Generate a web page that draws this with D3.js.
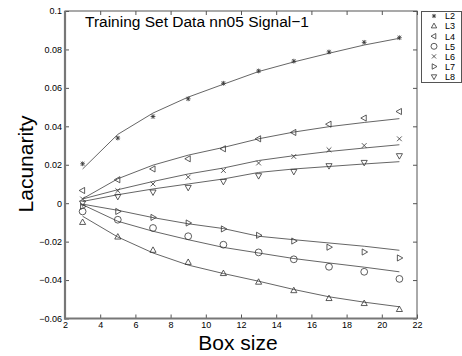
<!DOCTYPE html>
<html><head><meta charset="utf-8">
<script src="https://cdn.jsdelivr.net/npm/d3@7"></script>
<style>body{margin:0;background:#fff}svg{display:block}text{font-family:"Liberation Sans",Arial,sans-serif}</style>
</head><body><svg id="c" width="462" height="356"></svg>
<script>
const boxSizes = [3,5,7,9,11,13,15,17,19,21];
const seriesNames = ["L2","L3","L4","L5","L6","L7","L8"];
// measured markers
const L2 = [0.0205,0.0339,0.0451,0.0543,0.0624,0.0688,0.0739,0.0787,0.0837,0.0861];
const L3 = [-0.0100,-0.0176,-0.0245,-0.0308,-0.0366,-0.0411,-0.0455,-0.0496,-0.0522,-0.0553];
const L4 = [0.0066,0.0122,0.0178,0.0231,0.0283,0.0335,0.0368,0.0411,0.0443,0.0477];
const L5 = [-0.0043,-0.0086,-0.0129,-0.0172,-0.0216,-0.0256,-0.0292,-0.0331,-0.0357,-0.0394];
const L6 = [0.0022,0.0065,0.0100,0.0136,0.0170,0.0209,0.0243,0.0278,0.0300,0.0335];
const L7 = [-0.0017,-0.0043,-0.0074,-0.0103,-0.0134,-0.0167,-0.0197,-0.0229,-0.0254,-0.0285];
const L8 = [0.0001,0.0035,0.0058,0.0082,0.0113,0.0143,0.0165,0.0195,0.0212,0.0247];
// fitted curves
const fitL2 = [0.0178,0.0358,0.0469,0.0552,0.0619,0.0685,0.0735,0.0780,0.0823,0.0858];
const fitL3 = [-0.0068,-0.0176,-0.0259,-0.0322,-0.0366,-0.0406,-0.0449,-0.0487,-0.0515,-0.0539];
const fitL4 = [0.0023,0.0127,0.0198,0.0250,0.0290,0.0335,0.0370,0.0398,0.0420,0.0440];
const fitL5 = [-0.0008,-0.0094,-0.0146,-0.0190,-0.0230,-0.0259,-0.0288,-0.0311,-0.0333,-0.0357];
const fitL6 = [0.0022,0.0070,0.0113,0.0152,0.0183,0.0222,0.0247,0.0269,0.0287,0.0304];
const fitL7 = [-0.0005,-0.0037,-0.0075,-0.0107,-0.0132,-0.0172,-0.0190,-0.0207,-0.0224,-0.0245];
const fitL8 = [0.0009,0.0044,0.0074,0.0100,0.0126,0.0160,0.0178,0.0191,0.0204,0.0216];
const xTicks = [2,4,6,8,10,12,14,16,18,20,22];
const yTicks = [-0.06,-0.04,-0.02,0,0.02,0.04,0.06,0.08,0.1];
const yTickLabels = ["\u22120.06","\u22120.04","\u22120.02","0","0.02","0.04","0.06","0.08","0.1"];
const markerTypes = ["star","up","left","circle","cross","right","down"];

const pts = [L2,L3,L4,L5,L6,L7,L8];
const fits = [fitL2,fitL3,fitL4,fitL5,fitL6,fitL7,fitL8];

const svg = d3.select("#c");
const x = d3.scaleLinear().domain([2,22]).range([65,417]);
const y = d3.scaleLinear().domain([-0.06,0.1]).range([318.5,11]);
const axisColor = "#555";

function markerPath(t, s){
  const r = s;
  switch(t){
    case "up": return `M0,${-r}L${r*0.9},${r*0.6}L${-r*0.9},${r*0.6}Z`;
    case "down": return `M0,${r}L${r*0.9},${-r*0.6}L${-r*0.9},${-r*0.6}Z`;
    case "left": return `M${-r},0L${r*0.6},${-r*0.9}L${r*0.6},${r*0.9}Z`;
    case "right": return `M${r},0L${-r*0.6},${-r*0.9}L${-r*0.6},${r*0.9}Z`;
    case "circle": return `M${r},0A${r},${r} 0 1,1 ${-r},0A${r},${r} 0 1,1 ${r},0Z`;
    case "cross": { const q=r*0.7; return `M${-q},${-q}L${q},${q}M${-q},${q}L${q},${-q}`; }
    case "star": { const q=r*0.7, h=r*0.5; return `M${-q},0L${q},0M${-h},${-h*1.2}L${h},${h*1.2}M${-h},${h*1.2}L${h},${-h*1.2}M0,${-q}L0,${q}`; }
  }
}

// frame
const g = svg.append("g");
g.append("rect").attr("x",65).attr("y",11).attr("width",352).attr("height",307.5)
  .attr("fill","none").attr("stroke",axisColor).attr("stroke-width",1);
// axes with inner ticks
const xb = d3.axisBottom(x).tickValues(xTicks).tickSize(-4).tickPadding(3).tickFormat(d3.format("d"));
const xt = d3.axisTop(x).tickValues(xTicks).tickSize(-4).tickFormat("");
const yl = d3.axisLeft(y).tickValues(yTicks).tickSize(-4).tickPadding(3).tickFormat((d,i)=>yTickLabels[i]);
const yr = d3.axisRight(y).tickValues(yTicks).tickSize(-4).tickFormat("");
function style(sel){
  sel.select(".domain").remove();
  sel.selectAll("line").attr("stroke",axisColor);
  sel.selectAll("text").attr("fill","#000").style("font-size","9px").style("font-family","'Liberation Sans',Arial,sans-serif");
}
g.append("g").attr("transform","translate(0,318.5)").call(xb).call(style);
g.append("g").attr("transform","translate(0,11)").call(xt).call(style);
g.append("g").attr("transform","translate(65,0)").call(yl).call(style);
g.append("g").attr("transform","translate(417,0)").call(yr).call(style);
// thicker left/bottom axis lines
g.append("line").attr("x1",65).attr("x2",65).attr("y1",11).attr("y2",319.5).attr("stroke","#777").attr("stroke-width",2.2);
g.append("line").attr("x1",64).attr("x2",417).attr("y1",318.5).attr("y2",318.5).attr("stroke","#777").attr("stroke-width",2.2);

// fit lines
const line = d3.line().x((d,i)=>x(boxSizes[i])).y(d=>y(d));
fits.forEach(f=>{
  g.append("path").attr("d",line(f)).attr("fill","none").attr("stroke","#666").attr("stroke-width",1);
});
// markers
pts.forEach((p,k)=>{
  g.append("g").selectAll("path").data(p).join("path")
    .attr("transform",(d,i)=>`translate(${x(boxSizes[i])},${y(d)})`)
    .attr("d",markerPath(markerTypes[k],3.4))
    .attr("fill","none").attr("stroke","#333").attr("stroke-width",0.8);
});

// title
svg.append("text").attr("x",85).attr("y",27).style("font-size","15.5px").text("Training Set Data nn05 Signal\u22121");
// axis labels
svg.append("text").attr("x",238).attr("y",350).attr("text-anchor","middle").style("font-size","21px").text("Box size");
svg.append("text").attr("transform","translate(33,164) rotate(-90)").attr("text-anchor","middle").style("font-size","21px").text("Lacunarity");

// legend
const lg = svg.append("g");
lg.append("rect").attr("x",421.5).attr("y",11.5).attr("width",40).attr("height",71)
  .attr("fill","#fff").attr("stroke","#555").attr("stroke-width",1);
seriesNames.forEach((n,k)=>{
  const yy = 16 + k*10.1;
  lg.append("path").attr("transform",`translate(434,${yy})`).attr("d",markerPath(markerTypes[k],3))
    .attr("fill","none").attr("stroke","#333").attr("stroke-width",0.8);
  lg.append("text").attr("x",445).attr("y",yy+3.3).style("font-size","9px").text(n);
});
</script></body></html>
